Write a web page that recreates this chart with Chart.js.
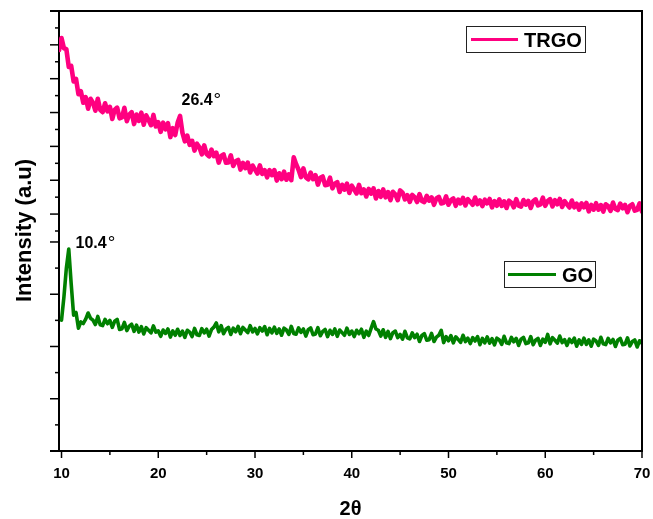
<!DOCTYPE html>
<html>
<head>
<meta charset="utf-8">
<script src="https://cdn.jsdelivr.net/npm/chart.js@4.4.1/dist/chart.umd.min.js"></script>
<style>html,body{margin:0;padding:0;background:#fff}canvas{display:block}</style>
</head>
<body>
<canvas id="c" width="653" height="519"></canvas>
<script>
// ---- data (2θ in degrees, intensity in arbitrary units) ----
const twoTheta = [
  9.75,
  10.0, 10.25, 10.5, 10.75, 11.0, 11.25, 11.5, 11.75,
  12.0, 12.25, 12.5, 12.75, 13.0, 13.25, 13.5, 13.75,
  14.0, 14.25, 14.5, 14.75, 15.0, 15.25, 15.5, 15.75,
  16.0, 16.25, 16.5, 16.75, 17.0, 17.25, 17.5, 17.75,
  18.0, 18.25, 18.5, 18.75, 19.0, 19.25, 19.5, 19.75,
  20.0, 20.25, 20.5, 20.75, 21.0, 21.25, 21.5, 21.75,
  22.0, 22.25, 22.5, 22.75, 23.0, 23.25, 23.5, 23.75,
  24.0, 24.25, 24.5, 24.75, 25.0, 25.25, 25.5, 25.75,
  26.0, 26.25, 26.5, 26.75, 27.0, 27.25, 27.5, 27.75,
  28.0, 28.25, 28.5, 28.75, 29.0, 29.25, 29.5, 29.75,
  30.0, 30.25, 30.5, 30.75, 31.0, 31.25, 31.5, 31.75,
  32.0, 32.25, 32.5, 32.75, 33.0, 33.25, 33.5, 33.75,
  34.0, 34.25, 34.5, 34.75, 35.0, 35.25, 35.5, 35.75,
  36.0, 36.25, 36.5, 36.75, 37.0, 37.25, 37.5, 37.75,
  38.0, 38.25, 38.5, 38.75, 39.0, 39.25, 39.5, 39.75,
  40.0, 40.25, 40.5, 40.75, 41.0, 41.25, 41.5, 41.75,
  42.0, 42.25, 42.5, 42.75, 43.0, 43.25, 43.5, 43.75,
  44.0, 44.25, 44.5, 44.75, 45.0, 45.25, 45.5, 45.75,
  46.0, 46.25, 46.5, 46.75, 47.0, 47.25, 47.5, 47.75,
  48.0, 48.25, 48.5, 48.75, 49.0, 49.25, 49.5, 49.75,
  50.0, 50.25, 50.5, 50.75, 51.0, 51.25, 51.5, 51.75,
  52.0, 52.25, 52.5, 52.75, 53.0, 53.25, 53.5, 53.75,
  54.0, 54.25, 54.5, 54.75, 55.0, 55.25, 55.5, 55.75,
  56.0, 56.25, 56.5, 56.75, 57.0, 57.25, 57.5, 57.75,
  58.0, 58.25, 58.5, 58.75, 59.0, 59.25, 59.5, 59.75,
  60.0, 60.25, 60.5, 60.75, 61.0, 61.25, 61.5, 61.75,
  62.0, 62.25, 62.5, 62.75, 63.0, 63.25, 63.5, 63.75,
  64.0, 64.25, 64.5, 64.75, 65.0, 65.25, 65.5, 65.75,
  66.0, 66.25, 66.5, 66.75, 67.0, 67.25, 67.5, 67.75,
  68.0, 68.25, 68.5, 68.75, 69.0, 69.25, 69.5, 69.75,
  70.0
];
const trgo = [
  1070,
  1140, 1080, 1075, 970, 976, 884, 899, 808,
  826, 758, 791, 723, 781, 758, 711, 781,
  716, 702, 755, 707, 734, 662, 717, 729,
  666, 671, 728, 649, 688, 702, 632, 688,
  651, 699, 628, 684, 656, 625, 686, 618,
  643, 586, 640, 601, 637, 555, 608, 567,
  639, 680, 580, 530, 564, 509, 533, 475,
  516, 495, 453, 506, 454, 441, 481, 442,
  463, 404, 444, 453, 403, 405, 447, 384,
  412, 420, 363, 403, 371, 404, 346, 387,
  363, 339, 388, 337, 359, 317, 360, 330,
  360, 298, 341, 306, 351, 303, 335, 300,
  435, 395, 362, 319, 370, 318, 305, 345,
  306, 330, 274, 314, 322, 271, 274, 315,
  252, 280, 289, 231, 273, 244, 280, 225,
  268, 245, 222, 272, 223, 246, 204, 249,
  221, 252, 192, 236, 202, 246, 199, 230,
  182, 232, 217, 182, 240, 227, 187, 212,
  172, 213, 200, 171, 218, 178, 171, 208,
  179, 199, 155, 192, 202, 163, 167, 205,
  155, 182, 192, 149, 186, 163, 196, 151,
  188, 172, 155, 198, 159, 181, 147, 185,
  163, 189, 140, 177, 149, 187, 148, 175,
  136, 179, 167, 140, 188, 150, 144, 183,
  156, 178, 136, 175, 187, 151, 157, 197,
  149, 177, 188, 145, 182, 158, 189, 142,
  177, 158, 139, 180, 140, 161, 126, 163,
  140, 166, 116, 154, 126, 164, 126, 153,
  115, 158, 147, 119, 168, 130, 124, 162,
  134, 154, 111, 148, 158, 120, 125, 163,
  114
];
const go = [
  null,
  501, 590, 700, 773, 640, 520, 530, 470,
  494, 488, 505, 528, 508, 501, 484, 515,
  483, 480, 504, 487, 500, 473, 497, 504,
  465, 468, 492, 461, 478, 485, 458, 482,
  455, 476, 448, 472, 462, 452, 479, 455,
  460, 439, 463, 450, 467, 436, 460, 443,
  466, 442, 459, 435, 462, 455, 438, 469,
  445, 442, 468, 452, 466, 440, 465, 474,
  490, 456, 480, 449, 466, 473, 446, 470,
  456, 477, 449, 473, 463, 453, 480, 456,
  469, 448, 472, 459, 476, 445, 469, 452,
  474, 450, 467, 443, 470, 463, 446, 477,
  450, 447, 471, 454, 467, 440, 464, 471,
  445, 448, 472, 441, 458, 465, 438, 462,
  446, 467, 439, 463, 453, 443, 470, 446,
  459, 438, 462, 449, 466, 435, 459, 442,
  469, 495, 467, 462, 440, 464, 435, 458,
  430, 453, 459, 434, 446, 428, 458, 433,
  429, 452, 434, 447, 419, 442, 449, 424,
  426, 450, 419, 436, 443, 462, 415, 438,
  422, 442, 414, 437, 427, 416, 443, 419,
  432, 411, 434, 421, 438, 407, 431, 414,
  437, 413, 430, 406, 432, 425, 408, 439,
  414, 411, 435, 418, 431, 404, 428, 435,
  411, 414, 438, 407, 424, 431, 404, 428,
  416, 446, 410, 434, 424, 413, 440, 415,
  426, 404, 428, 415, 432, 401, 425, 408,
  432, 408, 425, 401, 428, 421, 404, 435,
  410, 407, 431, 414, 427, 400, 424, 431,
  407, 409, 433, 402, 419, 425, 398, 422,
  413
];
const seriesNames = ['TRGO', 'GO'];
const xTicks = [10, 20, 30, 40, 50, 60, 70];
const xMinorTicks = [15, 25, 35, 45, 55, 65];
const upperTicks = [0, 100, 200, 300, 400, 500, 600, 700, 800, 900, 1000, 1100, 1200, 1300];
const lowerTicks = [0, 100, 200, 300, 400, 500, 600, 700, 800];
const peakLabels = ['26.4', '10.4'];
const peakLabelAt = [[22.4, 745], [11.45, 776]];

const FONT = '"Liberation Sans", Arial, Helvetica, sans-serif';
const PINK = '#ff0080';
const GREEN = '#008000';

const decor = {
  id: 'decor',
  afterDraw(chart) {
    const ctx = chart.ctx, ca = chart.chartArea;
    const sx = chart.scales.x, yT = chart.scales.yT, yB = chart.scales.yB;
    ctx.save();
    ctx.strokeStyle = '#000';
    ctx.lineWidth = 2;
    ctx.beginPath();
    ctx.moveTo(50, ca.top); ctx.lineTo(ca.right, ca.top); ctx.lineTo(ca.right, ca.bottom);
    ctx.stroke();
    ctx.beginPath(); ctx.moveTo(50, ca.bottom); ctx.lineTo(ca.left, ca.bottom); ctx.stroke();

    ctx.lineWidth = 1.5;
    const hTick = (y, len) => { ctx.beginPath(); ctx.moveTo(ca.left, y); ctx.lineTo(ca.left - len, y); ctx.stroke(); };
    const vTick = (x, len) => { ctx.beginPath(); ctx.moveTo(x, ca.bottom); ctx.lineTo(x, ca.bottom + len); ctx.stroke(); };
    upperTicks.forEach((v, i) => hTick(yT.getPixelForValue(v), i % 2 === 1 ? 9 : 4));
    lowerTicks.forEach((v, i) => hTick(yB.getPixelForValue(v), i % 2 === 0 ? 9 : 4));
    xTicks.forEach(v => vTick(sx.getPixelForValue(v), 7));
    xMinorTicks.forEach(v => vTick(sx.getPixelForValue(v), 4));

    // peak labels
    ctx.fillStyle = '#000';
    ctx.textBaseline = 'alphabetic';
    ctx.textAlign = 'left';
    const axes = [yT, yB];
    peakLabels.forEach((t, i) => {
      const px = sx.getPixelForValue(peakLabelAt[i][0]);
      const py = axes[i].getPixelForValue(peakLabelAt[i][1]);
      ctx.font = 'bold 16px ' + FONT;
      ctx.fillText(t, px, py);
      const w = ctx.measureText(t).width;
      ctx.font = '19px ' + FONT;
      ctx.fillText('\u00B0', px + w + 1, py + 1);
    });

    // legends
    const legend = (x0, y0, x1, y1, color, lx0, lx1, ly, name, tx, ty) => {
      ctx.fillStyle = '#fff';
      ctx.fillRect(x0, y0, x1 - x0, y1 - y0);
      ctx.strokeStyle = '#222'; ctx.lineWidth = 1;
      ctx.strokeRect(x0 + 0.5, y0 + 0.5, x1 - x0, y1 - y0);
      ctx.strokeStyle = color; ctx.lineWidth = 3;
      ctx.beginPath(); ctx.moveTo(lx0, ly); ctx.lineTo(lx1, ly); ctx.stroke();
      ctx.fillStyle = '#000'; ctx.font = 'bold 20px ' + FONT;
      ctx.fillText(name, tx, ty);
    };
    legend(466, 26, 585, 52, PINK, 471, 518, 39.5, seriesNames[0], 524, 46.5);
    legend(504, 261, 595, 287, GREEN, 508, 556, 274.5, seriesNames[1], 562, 282);

    // y axis title
    ctx.save();
    ctx.translate(31, 230.5);
    ctx.rotate(-Math.PI / 2);
    ctx.textAlign = 'center';
    ctx.fillStyle = '#000';
    ctx.font = 'bold 22px ' + FONT;
    ctx.fillText('Intensity (a.u)', 0, 0);
    ctx.restore();
    ctx.restore();
  }
};

const yBase = (min, max) => ({
  type: 'linear', position: 'left', stack: 'xrd', stackWeight: 1,
  min, max,
  ticks: { display: false },
  grid: { display: false, drawTicks: false, tickLength: 0 },
  border: { display: true, color: '#000', width: 2 },
  afterFit(s) { s.width = 59; }
});

new Chart(document.getElementById('c'), {
  type: 'line',
  data: {
    datasets: [
      {
        label: seriesNames[0], yAxisID: 'yT',
        data: twoTheta.map((x, i) => ({ x, y: trgo[i] })),
        borderColor: PINK, borderWidth: 4.6, pointRadius: 0, tension: 0,
        borderJoinStyle: 'round', borderCapStyle: 'round', fill: false
      },
      {
        label: seriesNames[1], yAxisID: 'yB',
        data: twoTheta.map((x, i) => ({ x, y: go[i] })),
        borderColor: GREEN, borderWidth: 3.6, pointRadius: 0, tension: 0,
        borderJoinStyle: 'round', borderCapStyle: 'round', fill: false
      }
    ]
  },
  options: {
    responsive: false,
    animation: false,
    events: [],
    layout: { padding: { top: 11, right: 11, left: 0, bottom: 0 } },
    plugins: { legend: { display: false }, tooltip: { enabled: false } },
    scales: {
      x: {
        type: 'linear', position: 'bottom', min: 9.74, max: 70,
        afterBuildTicks(s) { s.ticks = xTicks.map(v => ({ value: v })); },
        ticks: {
          color: '#000', padding: 14, maxRotation: 0, autoSkip: false,
          font: { family: FONT, size: 15, weight: 'bold' },
          callback: v => String(v)
        },
        grid: { display: false, drawTicks: false, tickLength: 0 },
        border: { display: true, color: '#000', width: 2 },
        title: {
          display: true, text: '2θ', color: '#000', padding: 0,
          font: { family: FONT, size: 20, weight: 'bold', lineHeight: 1 }
        },
        afterFit(s) { s.height = 68; s.paddingLeft = 0; s.paddingRight = 0; }
      },
      yB: yBase(0, 842),
      yT: yBase(0, 1300)
    }
  },
  plugins: [decor]
});
</script>
</body>
</html>
